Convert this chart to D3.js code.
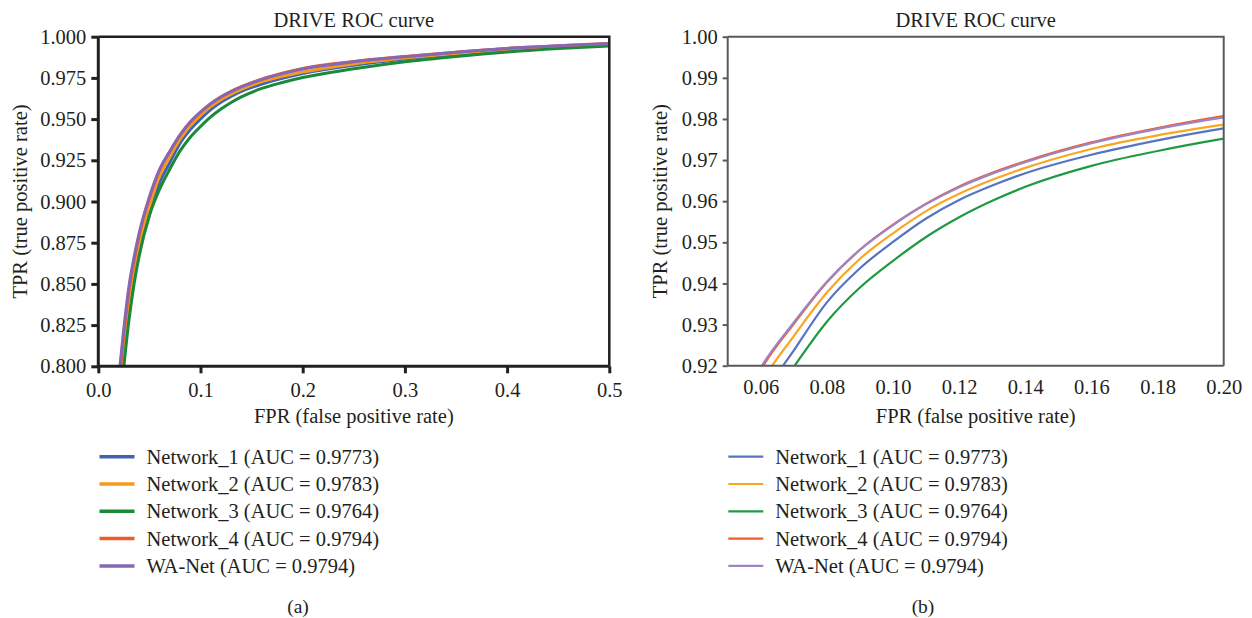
<!DOCTYPE html>
<html><head><meta charset="utf-8">
<script src="https://cdn.jsdelivr.net/npm/d3@7"></script>
<style>
body{margin:0;background:#fff;}
svg text{font-family:"Liberation Serif","DejaVu Serif",serif;fill:#231f20;}
</style></head>
<body><svg id="c" width="1252" height="618"></svg>
<script>
// ---- data ----
const seriesNames = ["Network_1", "Network_2", "Network_3", "Network_4", "WA-Net"];
const aucValues = ["0.9773", "0.9783", "0.9764", "0.9794", "0.9794"];
const fpr = [0.018, 0.02, 0.025, 0.03, 0.035, 0.04, 0.05, 0.06, 0.07, 0.08, 0.09, 0.10, 0.11, 0.12, 0.13, 0.14, 0.16, 0.18, 0.20, 0.25, 0.30, 0.35, 0.40, 0.45, 0.50];
const tprNet1 = [0.762, 0.775, 0.806, 0.834, 0.854, 0.869, 0.892, 0.9115, 0.9237, 0.9354, 0.9437, 0.9501, 0.9558, 0.9603, 0.9638, 0.9668, 0.9713, 0.9748, 0.9777, 0.9827, 0.9864, 0.9893, 0.9918, 0.9937, 0.9951];
const tprNet2 = [0.768, 0.781, 0.813, 0.840, 0.859, 0.874, 0.897, 0.9155, 0.9272, 0.9378, 0.9460, 0.9522, 0.9576, 0.9618, 0.9652, 0.9681, 0.9727, 0.9760, 0.9786, 0.9835, 0.9870, 0.9898, 0.9922, 0.9940, 0.9954];
const tprNet3 = [0.757, 0.770, 0.800, 0.828, 0.850, 0.867, 0.8915, 0.9075, 0.9197, 0.9307, 0.9390, 0.9455, 0.9513, 0.9561, 0.9601, 0.9635, 0.9686, 0.9722, 0.9752, 0.9805, 0.9848, 0.9880, 0.9907, 0.9928, 0.9944];
const tprNet4 = [0.777, 0.790, 0.820, 0.846, 0.864, 0.8795, 0.9020, 0.9190, 0.9302, 0.9403, 0.9482, 0.9543, 0.9594, 0.9636, 0.9669, 0.9697, 0.9743, 0.9778, 0.9807, 0.9850, 0.9880, 0.9906, 0.9929, 0.9945, 0.9958];
const tprWANet = [0.781, 0.793, 0.823, 0.8485, 0.8663, 0.8808, 0.9028, 0.9195, 0.9305, 0.9404, 0.9482, 0.9542, 0.9593, 0.9634, 0.9667, 0.9695, 0.9741, 0.9776, 0.9804, 0.9848, 0.9879, 0.9906, 0.9929, 0.9945, 0.9958];
const leftYTicks = [0.800, 0.825, 0.850, 0.875, 0.900, 0.925, 0.950, 0.975, 1.000];
const leftXTicks = [0.0, 0.1, 0.2, 0.3, 0.4, 0.5];
const rightYTicks = [0.92, 0.93, 0.94, 0.95, 0.96, 0.97, 0.98, 0.99, 1.00];
const rightXTicks = [0.06, 0.08, 0.10, 0.12, 0.14, 0.16, 0.18, 0.20];
const titleText = "DRIVE ROC curve";
const xLabel = "FPR (false positive rate)";
const yLabel = "TPR (true positive rate)";
const panelLabels = ["(a)", "(b)"];

const tprAll = [tprNet1, tprNet2, tprNet3, tprNet4, tprWANet];
const colorsA = ["#3c64b1", "#f7991c", "#1a8a3a", "#ef5a2a", "#8667b3"];
const colorsB = ["#5674c2", "#f9a623", "#1f9a44", "#f15a2b", "#9c85c4"];

const svg = d3.select("#c");
const FS = 20.5;

function panel(cfg){
  const g = svg.append("g");
  const x = d3.scaleLinear().domain(cfg.xd).range([cfg.x0, cfg.x1]);
  const y = d3.scaleLinear().domain(cfg.yd).range([cfg.y1, cfg.y0]);
  const clipId = "clip" + cfg.id;
  svg.append("defs").append("clipPath").attr("id", clipId)
    .append("rect").attr("x", cfg.x0).attr("y", cfg.y0)
    .attr("width", cfg.x1 - cfg.x0).attr("height", cfg.y1 - cfg.y0);
  const line = d3.line().x(d => x(d[0])).y(d => y(d[1])).curve(d3.curveMonotoneX);
  const lg = g.append("g").attr("clip-path", `url(#${clipId})`);
  tprAll.forEach((t, i) => {
    lg.append("path").datum(fpr.map((f, k) => [f, t[k]]))
      .attr("d", line).attr("fill", "none")
      .attr("stroke", cfg.colors[i]).attr("stroke-width", cfg.lw);
  });
  g.append("path").attr("d", `M${cfg.x0},${cfg.y0}H${cfg.x1}V${cfg.y1}`)
    .attr("fill", "none").attr("stroke", cfg.axisColor).attr("stroke-width", cfg.frameW);
  const yAxis = d3.axisLeft(y).tickValues(cfg.yTicks).tickFormat(d3.format(cfg.yFmt)).tickSize(cfg.ytl).tickPadding(5);
  const xAxis = d3.axisBottom(x).tickValues(cfg.xTicks).tickFormat(d3.format(cfg.xFmt)).tickSize(cfg.xtl).tickPadding(cfg.xtl > 0 ? 9 : 14);
  const ya = g.append("g").attr("transform", `translate(${cfg.x0},0)`).call(yAxis);
  const xa = g.append("g").attr("transform", `translate(0,${cfg.y1})`).call(xAxis);
  [ya, xa].forEach(a => {
    a.select(".domain").attr("stroke", cfg.axisColor).attr("stroke-width", cfg.axisW);
    a.selectAll(".tick line").attr("stroke", cfg.axisColor).attr("stroke-width", cfg.axisW);
    a.selectAll("text").attr("font-size", FS).attr("font-family", "Liberation Serif").attr("fill", "#231f20");
  });
  ya.select(".domain").attr("d", `M0,${cfg.y0}V${cfg.y1}`);
  xa.select(".domain").attr("d", `M${cfg.x0},0H${cfg.x1}`);
  if (cfg.xtl === 0) xa.selectAll(".tick line").remove();
  const cx = (cfg.x0 + cfg.x1) / 2;
  g.append("text").attr("x", cx).attr("y", 27).attr("text-anchor", "middle").attr("font-size", FS).text(titleText);
  g.append("text").attr("x", cx).attr("y", 423).attr("text-anchor", "middle").attr("font-size", FS).text(xLabel);
  g.append("text").attr("transform", `translate(${cfg.ylx},${(cfg.y0 + cfg.y1) / 2}) rotate(-90)`)
    .attr("text-anchor", "middle").attr("dy", "0.35em").attr("font-size", FS).text(yLabel);
  seriesNames.forEach((n, i) => {
    const yy = 456.7 + i * 27.3;
    g.append("line").attr("x1", cfg.legX).attr("x2", cfg.legX + 35).attr("y1", yy).attr("y2", yy)
      .attr("stroke", cfg.colors[i]).attr("stroke-width", cfg.legW);
    g.append("text").attr("x", cfg.legX + 47).attr("y", yy).attr("dy", "0.35em").attr("font-size", FS)
      .text(`${n} (AUC = ${aucValues[i]})`);
  });
  g.append("text").attr("x", cfg.px).attr("y", 606).attr("dy", "0.35em").attr("text-anchor", "middle")
    .attr("font-size", FS - 1).text(cfg.panelLabel);
}

panel({id: "a", x0: 98.3, x1: 609.3, y0: 36.7, y1: 366.3, xd: [0, 0.5], yd: [0.8, 1.0],
  colors: colorsA, lw: 3, legW: 3.5, axisColor: "#231f20", axisW: 3, frameW: 2.5,
  yTicks: leftYTicks, xTicks: leftXTicks, yFmt: ".3f", xFmt: ".1f", ytl: 7, xtl: 7,
  ylx: 20, legX: 99.5, px: 298, panelLabel: panelLabels[0]});

panel({id: "b", x0: 727.7, x1: 1223.7, y0: 36.7, y1: 365.7, xd: [0.05, 0.20], yd: [0.92, 1.0],
  colors: colorsB, lw: 2.2, legW: 2.2, axisColor: "#595959", axisW: 2, frameW: 2,
  yTicks: rightYTicks, xTicks: rightXTicks, yFmt: ".2f", xFmt: ".2f", ytl: 5, xtl: 0,
  ylx: 660, legX: 728.3, px: 923, panelLabel: panelLabels[1]});
</script></body></html>
